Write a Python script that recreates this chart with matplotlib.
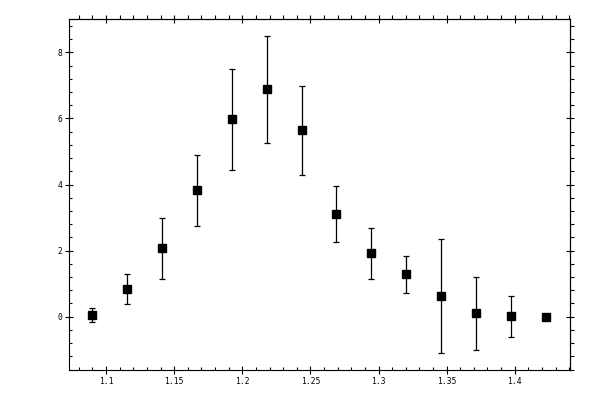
import numpy as np
import matplotlib
matplotlib.use("Agg")
import matplotlib.pyplot as plt
from matplotlib.ticker import MultipleLocator, FuncFormatter

# values
x_vals = [1.0899, 1.1156, 1.1413, 1.1670, 1.1927, 1.2184, 1.2441,
          1.2690, 1.2947, 1.3204, 1.3461, 1.3718, 1.3975, 1.4232]
y_vals = [0.04, 0.83, 2.07, 3.82, 5.97, 6.88, 5.64,
          3.10, 1.92, 1.28, 0.62, 0.10, 0.01, -0.02]
y_err = [0.21, 0.46, 0.92, 1.08, 1.52, 1.62, 1.35,
         0.84, 0.77, 0.57, 1.72, 1.11, 0.62, 0.0]

x_ticks = [1.1, 1.15, 1.2, 1.25, 1.3, 1.35, 1.4]
y_ticks = [0, 2, 4, 6, 8]


def fmt(v, pos):
    s = f"{v:.2f}".rstrip("0").rstrip(".")
    return s


fig = plt.figure(figsize=(6, 4), dpi=100)
ax = fig.add_axes([0.1155, 0.075, 0.835, 0.8768])

ax.errorbar(x_vals, y_vals, yerr=y_err, fmt="s", color="black",
            markersize=5.8, elinewidth=0.9, capsize=2.2, capthick=0.9,
            ecolor="black")

ax.set_xlim(1.073, 1.4408)
ax.set_ylim(-1.613, 9.0)

ax.set_xticks(x_ticks)
ax.set_yticks(y_ticks)
ax.xaxis.set_major_formatter(FuncFormatter(fmt))
ax.xaxis.set_minor_locator(MultipleLocator(0.01))
ax.yaxis.set_minor_locator(MultipleLocator(0.4))

for s in ax.spines.values():
    s.set_linewidth(0.8)

ax.tick_params(which="major", direction="inout", length=5.4, width=0.8,
               labelsize=5.8, pad=2.5, top=False, right=False)
ax.tick_params(which="minor", direction="in", length=2.5, width=0.8,
               top=False, right=False)
for lab in ax.get_xticklabels() + ax.get_yticklabels():
    lab.set_family("DejaVu Sans Mono")

# top and right: minor ticks point outward
top = ax.secondary_xaxis("top")
top.set_xticks(x_ticks)
top.xaxis.set_minor_locator(MultipleLocator(0.01))
top.tick_params(which="major", direction="inout", length=5.4, width=0.8,
                labeltop=False)
top.tick_params(which="minor", direction="out", length=2.7, width=0.8)

right = ax.secondary_yaxis("right")
right.set_yticks(y_ticks)
right.yaxis.set_minor_locator(MultipleLocator(0.4))
right.tick_params(which="major", direction="inout", length=5.4, width=0.8,
                  labelright=False)
right.tick_params(which="minor", direction="out", length=2.7, width=0.8)
for sec in (top, right):
    for s in sec.spines.values():
        s.set_linewidth(0.8)

fig.savefig("out.png", dpi=100)
